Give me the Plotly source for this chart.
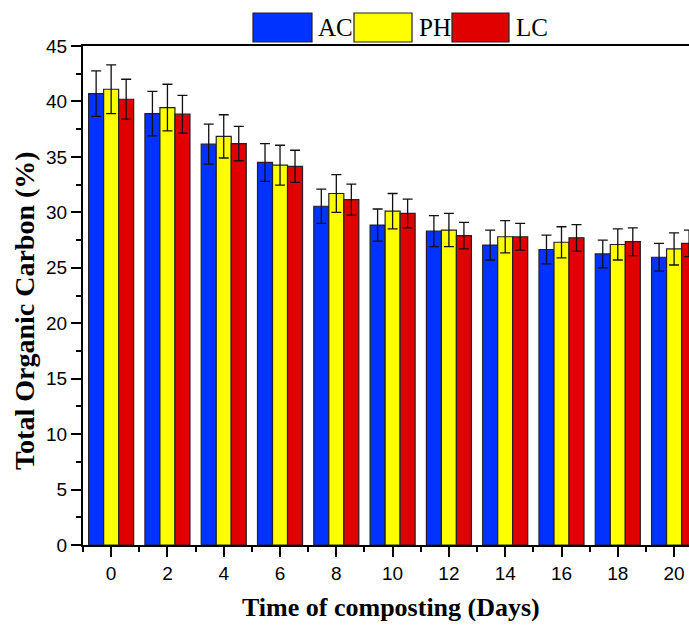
import plotly.graph_objects as go

days = [0, 2, 4, 6, 8, 10, 12, 14, 16, 18, 20]
ac = [40.7, 38.9, 36.15, 34.5, 30.55, 28.85, 28.3, 27.05, 26.65, 26.25, 25.95]
ph = [41.1, 39.45, 36.85, 34.25, 31.7, 30.1, 28.4, 27.8, 27.3, 27.1, 26.7]
lc = [40.2, 38.85, 36.2, 34.15, 31.15, 29.9, 27.9, 27.8, 27.7, 27.35, 27.2]
ac_err = [2.05, 2.0, 1.8, 1.7, 1.55, 1.45, 1.4, 1.35, 1.3, 1.25, 1.25]
ph_err = [2.2, 2.1, 1.95, 1.8, 1.7, 1.6, 1.5, 1.45, 1.4, 1.4, 1.45]
lc_err = [1.8, 1.7, 1.55, 1.45, 1.4, 1.3, 1.2, 1.2, 1.2, 1.25, 1.2]

names = ["AC", "PH", "LC"]
colors = ["#0033ff", "#ffff00", "#e00000"]
series = [ac, ph, lc]
errs = [ac_err, ph_err, lc_err]

W, H = 689, 626
L, R, T, B = 83, 0, 46, 81
PW, PH_ = W - L - R, H - T - B

def px(x):
    return (x - L) / PW

def py(y):
    return (H - B - y) / PH_

fig = go.Figure()
for n, c, v, e in zip(names, colors, series, errs):
    fig.add_trace(go.Bar(
        x=days, y=v, name=n,
        marker=dict(color=c, line=dict(color="#222222", width=1.2)),
        error_y=dict(type="data", array=e, visible=True, color="#111111",
                     thickness=1.3, width=5),
        showlegend=False,
    ))

# manual legend (large rectangles like the original)
leg_rects = [(253, 312), (354, 412), (452, 509)]
leg_text_x = [318, 419, 516]
for (x0, x1), tx, n, c in zip(leg_rects, leg_text_x, names, colors):
    fig.add_shape(type="rect", xref="paper", yref="paper",
                  x0=px(x0), x1=px(x1), y0=py(42), y1=py(13),
                  fillcolor=c, line=dict(color="#222222", width=1.2))
    fig.add_annotation(xref="paper", yref="paper",
                       x=px(tx - 2), y=py(28),
                       text=n, showarrow=False, xanchor="left", yanchor="middle",
                       font=dict(family="Liberation Serif", size=25, color="black"))

# axis titles
fig.add_annotation(xref="paper", yref="paper", x=px(391), y=py(607),
                   text="<b>Time of composting (Days)</b>", showarrow=False,
                   xanchor="center", yanchor="middle",
                   font=dict(family="Liberation Serif", size=26, color="black"))
fig.add_annotation(xref="paper", yref="paper", x=px(24), y=py(311),
                   text="<b>Total Organic Carbon (%)</b>", showarrow=False,
                   textangle=-90, xanchor="center", yanchor="middle",
                   font=dict(family="Liberation Serif", size=28, color="black"))

fig.update_layout(
    width=W, height=H,
    margin=dict(l=L, r=R, t=T, b=B, autoexpand=False),
    paper_bgcolor="white", plot_bgcolor="white",
    barmode="group", bargap=0.2, bargroupgap=0,
    font=dict(family="Liberation Sans", size=19, color="black"),
)
fig.update_xaxes(
    range=[-1, 20.53], tickmode="linear", tick0=0, dtick=2,
    ticks="outside", ticklen=10, tickwidth=1.5, tickcolor="black",
    minor=dict(ticks="outside", ticklen=5, tickwidth=1.5, dtick=1, tick0=1, tickcolor="black"),
    showline=True, linecolor="black", linewidth=2, mirror=True,
    showgrid=False, zeroline=False, automargin=False,
    tickfont=dict(family="Liberation Sans", size=19),
)
fig.update_yaxes(
    range=[0, 45], tickmode="linear", tick0=0, dtick=5,
    ticks="outside", ticklen=10, tickwidth=1.5, tickcolor="black",
    minor=dict(ticks="outside", ticklen=5, tickwidth=1.5, dtick=2.5, tickcolor="black"),
    showline=True, linecolor="black", linewidth=2, mirror=True,
    showgrid=False, zeroline=False, automargin=False,
    tickfont=dict(family="Liberation Sans", size=19),
)

fig.write_html("out.html", config={"displayModeBar": False},
               post_script="document.body.style.margin='0';document.body.style.overflow='hidden';")
